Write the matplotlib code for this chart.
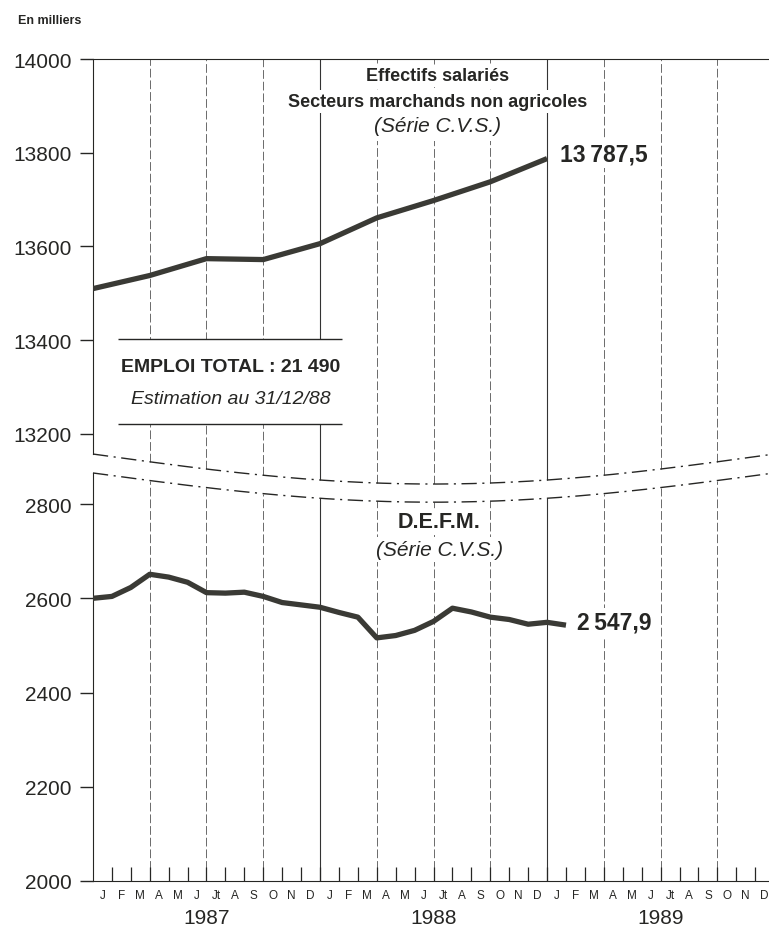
import numpy as np
import matplotlib.pyplot as plt

plt.rcParams['font.family'] = ['Liberation Sans', 'DejaVu Sans']

# Effectifs salaries, secteurs marchands non agricoles (milliers, fin de trimestre)
quarters = [0, 3, 6, 9, 12, 15, 18, 21, 24]
salaries = [13510, 13538, 13574, 13572, 13606, 13661, 13698, 13738, 13787.5]

# D.E.F.M. mensuelles (milliers), janv. 1987 -> janv. 1989
months = list(range(26))
defm = [2600, 2604, 2623, 2651, 2645, 2634, 2612, 2611, 2613, 2604, 2591, 2586,
        2581, 2570, 2560, 2516, 2521, 2532, 2551, 2579, 2571, 2560, 2555, 2545,
        2549, 2543]

month_labels = ['J', 'F', 'M', 'A', 'M', 'J', 'Jt', 'A', 'S', 'O', 'N', 'D']
years = ['1987', '1988', '1989']
top_ticks = [13200, 13400, 13600, 13800, 14000]
bot_ticks = [2000, 2200, 2400, 2600, 2800]

INK = '#262624'
LINE = '#3a3a35'

XMAX = 35.73
fig = plt.figure(figsize=(7.69, 9.29), dpi=100)
ax_top = fig.add_axes([0.1209, 0.4779, 0.8791, 0.4575], facecolor='none')
ax_bot = fig.add_axes([0.1209, 0.0506, 0.8791, 0.4392], facecolor='none')

ax_top.set_xlim(0, XMAX)
ax_top.set_ylim(13093, 14000)
ax_bot.set_xlim(0, XMAX)
ax_bot.set_ylim(2000, 2866)

# axis break (two wavy dash-dot lines)
xs = np.linspace(0, XMAX, 300)
bump = lambda x: np.sin(np.pi * np.asarray(x) / 36)
top_break = lambda x: 13157 - 64 * bump(x)
bot_break = lambda x: 2866 - 62 * bump(x)
brk = dict(color=INK, lw=1.0, linestyle=(0, (11, 4, 1.5, 4)), clip_on=False)
ax_top.plot(xs, top_break(xs), **brk)
ax_bot.plot(xs, bot_break(xs), **brk)

# vertical quarter / year lines
for m in range(3, 36, 3):
    if m % 12 == 0:
        st = dict(color='#333333', lw=0.8, linestyle='-')
    else:
        st = dict(color='#6a6a6a', lw=0.7, linestyle=(0, (9, 3)))
    ax_top.vlines(m, top_break(m), 14000, zorder=1, **st)
    ax_bot.vlines(m, 2000, bot_break(m), zorder=1, **st)

# series
ax_top.plot(quarters, salaries, color=LINE, lw=3.8, zorder=4,
            solid_joinstyle='round', solid_capstyle='butt')
ax_bot.plot(months, defm, color=LINE, lw=3.8, zorder=4,
            solid_joinstyle='round', solid_capstyle='butt')

white = dict(facecolor='white', edgecolor='none', pad=2)
ax_top.text(24.7, 13798, '13\u2009787,5', fontsize=16.5, fontweight='bold',
            color=INK, ha='left', va='center', bbox=white, zorder=3)
ax_bot.text(25.6, 2549, '2\u2009547,9', fontsize=16.5, fontweight='bold',
            color=INK, ha='left', va='center', bbox=white, zorder=3)

# titles
ax_top.text(18.2, 13964, 'Effectifs salariés', fontsize=13,
            fontweight='bold', color=INK, ha='center', va='center', bbox=white, zorder=3)
ax_top.text(18.2, 13909, 'Secteurs marchands non agricoles', fontsize=13,
            fontweight='bold', color=INK, ha='center', va='center', bbox=white, zorder=3)
ax_top.text(18.2, 13858, '(Série C.V.S.)', fontsize=15, style='italic',
            color=INK, ha='center', va='center', bbox=dict(white, pad=4), zorder=3)
ax_bot.text(18.3, 2762, 'D.E.F.M.', fontsize=15.5, fontweight='bold',
            color=INK, ha='center', va='center', bbox=white, zorder=3)
ax_bot.text(18.3, 2704, '(Série C.V.S.)', fontsize=15, style='italic',
            color=INK, ha='center', va='center', bbox=white, zorder=3)

# emploi total box
bx0, bx1 = 1.32 / XMAX, 13.16 / XMAX
ax_top.axhspan(13222, 13403, xmin=bx0, xmax=bx1, facecolor='white', edgecolor='none', zorder=2)
ax_top.hlines([13222, 13403], 1.32, 13.16, color=INK, lw=1.0, zorder=3)
ax_top.text(7.3, 13343, 'EMPLOI TOTAL : 21 490', fontsize=14,
            fontweight='bold', color=INK, ha='center', va='center', zorder=3)
ax_top.text(7.3, 13275, 'Estimation au 31/12/88', fontsize=14,
            style='italic', color=INK, ha='center', va='center', zorder=3)

# spines and ticks
for ax, ticks in ((ax_top, top_ticks), (ax_bot, bot_ticks)):
    ax.spines['right'].set_visible(False)
    ax.set_yticks(ticks)
    ax.tick_params(axis='y', direction='out', length=9.5, width=1.0,
                   labelsize=15, pad=6, colors=INK)
    ax.spines['left'].set_color(INK)

ax_top.spines['bottom'].set_visible(False)
ax_top.spines['left'].set_bounds(13157, 14000)
ax_top.spines['top'].set_color(INK)
ax_top.tick_params(axis='x', bottom=False, labelbottom=False)

ax_bot.spines['top'].set_visible(False)
ax_bot.spines['bottom'].set_color(INK)
ax_bot.set_xticks(range(1, 36))
ax_bot.tick_params(axis='x', which='major', direction='in', length=10,
                   width=0.9, labelbottom=False, colors=INK)
mids = [i + 0.5 for i in range(36)]
ax_bot.set_xticks(mids, month_labels * 3, minor=True)
ax_bot.tick_params(axis='x', which='minor', length=0, pad=6, labelsize=8.5, colors=INK)

for i, yr in enumerate(years):
    ax_bot.annotate(yr, xy=(6 + 12 * i, 0), xycoords=('data', 'axes fraction'),
                    xytext=(0, -26), textcoords='offset points', ha='center',
                    va='center', fontsize=15, color=INK)

fig.text(18 / 769, 1 - 21 / 929, 'En milliers', fontsize=9, fontweight='bold',
         color=INK, ha='left', va='center')

fig.savefig('out.png', dpi=100, facecolor='white')
